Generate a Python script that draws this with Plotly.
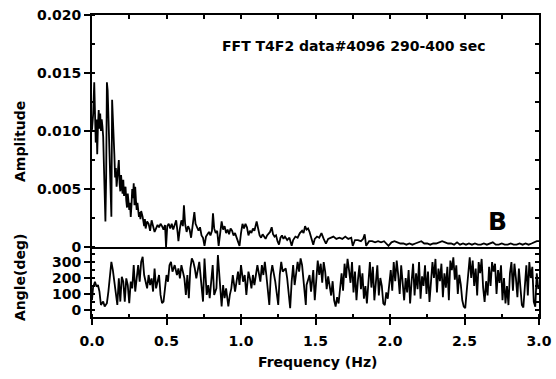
import plotly.graph_objects as go

# ---- Amplitude spectrum (Hz, amplitude x1e-3) ----
amp_freq = [0.000,0.008,0.015,0.020,0.025,0.030,0.035,0.040,0.045,0.050,0.055,0.060,0.065,0.070,0.075,0.080,0.085,0.090,0.095,
            0.100,0.105,0.110,0.115,0.120,0.125,0.130,0.135,0.140,0.145,0.150,0.155,0.160,0.165,0.170,0.175,0.180,0.185,0.190,0.195,
            0.200,0.205,0.210,0.215,0.220,0.225,0.230,0.235,0.240,0.245,0.250,0.255,0.260,0.265,0.270,0.275,0.280,0.285,0.290,0.295,
            0.300,0.305,0.310,0.315,0.320,0.325,0.330,0.340,0.350,0.355,0.360,0.370,0.380,0.390,0.400,0.410,0.420,0.430,0.440,0.450,
            0.460,0.470,0.480,0.490,0.497,0.505,0.515,0.525,0.535,0.545,0.555,0.565,0.575,0.580,0.590,0.600,0.610,0.617,0.625,0.635,
            0.645,0.655,0.665,0.675,0.687,0.695,0.705,0.715,0.725,0.735,0.745,0.755,0.765,0.775,0.785,0.795,0.805,0.812,0.820,0.830,
            0.840,0.850,0.860,0.870,0.880,0.890,0.900,0.910,0.920,0.930,0.940,0.950,0.960,0.970,0.980,0.990,1.000,1.010,1.020,1.030,
            1.040,1.050,1.060,1.070,1.080,1.090,1.105,1.115,1.125,1.135,1.145,1.155,1.165,1.175,1.185,1.195,1.206,1.215,1.225,1.235,
            1.245,1.255,1.265,1.275,1.285,1.295,1.310,1.325,1.340,1.350,1.365,1.380,1.395,1.410,1.420,1.430,1.440,1.450,1.460,1.470,
            1.485,1.495,1.510,1.525,1.540,1.555,1.570,1.585,1.600,1.620,1.640,1.660,1.680,1.700,1.720,1.740,1.750,1.765,1.785,1.805,
            1.820,1.830,1.840,1.860,1.880,1.900,1.920,1.940,1.960,1.990,2.010,2.030,2.050,2.070,2.090,2.110,2.130,2.150,2.170,2.190,
            2.210,2.230,2.250,2.270,2.290,2.310,2.330,2.350,2.370,2.390,2.410,2.430,2.450,2.470,2.490,2.510,2.530,2.550,2.570,2.590,
            2.610,2.630,2.650,2.670,2.690,2.710,2.730,2.750,2.770,2.790,2.810,2.830,2.850,2.870,2.890,2.910,2.930,2.950,2.970,2.985,3.000]
amp_milli = [10.1,11.5,14.2,12.0,9.0,11.0,8.0,10.5,11.8,10.2,11.5,10.0,11.0,10.4,9.5,7.0,5.0,2.2,6.0,
             14.2,13.5,11.0,9.5,7.0,4.0,2.6,12.7,11.5,9.5,8.0,6.0,6.8,5.2,6.0,7.0,7.5,5.5,4.8,6.2,
             5.0,4.6,5.8,4.4,4.9,5.2,4.0,3.4,4.6,4.0,3.2,3.8,2.6,3.6,5.0,4.2,5.5,3.6,5.2,4.0,
             3.2,3.8,3.4,2.6,3.0,2.4,3.1,2.6,1.8,2.4,1.6,2.2,2.0,1.4,2.3,1.8,1.3,1.6,1.9,1.7,
             2.0,1.8,1.5,1.9,0.0,1.8,2.0,1.6,2.0,1.5,1.9,2.3,1.2,0.5,1.6,2.3,1.8,3.6,2.0,1.3,
             1.8,1.5,0.8,1.7,3.0,2.0,1.6,1.4,1.7,1.0,0.8,0.1,0.9,1.1,1.3,1.0,1.4,2.9,1.6,1.2,
             1.4,0.1,1.2,2.2,1.5,1.8,1.2,1.5,1.1,1.6,1.4,1.0,1.2,0.8,0.6,0.1,1.2,2.0,1.6,2.0,
             1.7,1.0,1.4,1.2,1.6,1.4,2.2,1.5,1.0,0.8,1.1,0.9,0.7,1.0,1.2,1.3,1.7,1.1,0.9,1.0,
             0.5,0.2,0.8,1.0,0.7,0.9,0.6,0.8,0.1,0.6,0.9,0.8,1.2,1.4,1.2,1.8,1.5,1.6,1.3,0.8,
             0.2,0.7,0.9,0.8,1.2,0.7,0.3,0.7,0.8,0.9,0.7,0.8,0.7,0.9,0.7,0.8,0.1,0.6,0.6,0.5,
             0.7,1.1,0.1,0.5,0.5,0.4,0.5,0.4,0.5,0.1,0.4,0.5,0.4,0.3,0.3,0.2,0.3,0.2,0.3,0.4,
             0.5,0.3,0.3,0.2,0.3,0.3,0.4,0.5,0.4,0.3,0.3,0.2,0.4,0.2,0.3,0.2,0.3,0.2,0.3,0.2,
             0.2,0.3,0.2,0.3,0.4,0.2,0.2,0.3,0.2,0.2,0.3,0.2,0.2,0.3,0.2,0.3,0.2,0.3,0.4,0.5,0.5]

# ---- Phase angle (Hz, degrees) ----
ang_freq = [0.000,0.007,0.020,0.030,0.040,0.050,0.060,0.075,0.085,0.100,0.110,0.120,0.130,0.140,0.150,0.160,0.170,0.180,0.190,
            0.200,0.210,0.220,0.230,0.240,0.250,0.260,0.270,0.280,0.290,0.300,0.310,0.320,0.330,0.340,0.350,0.360,0.370,0.380,0.390,
            0.400,0.410,0.420,0.430,0.450,0.460,0.470,0.480,0.490,0.500,0.510,0.520,0.530,0.540,0.555,0.570,0.580,0.590,0.600,0.610,
            0.620,0.630,0.640,0.650,0.660,0.670,0.680,0.690,0.700,0.720,0.735,0.745,0.755,0.770,0.780,0.790,0.800,0.810,0.820,0.835,
            0.845,0.855,0.870,0.880,0.890,0.900,0.915,0.925,0.935,0.945,0.960,0.970,0.980,0.990,1.000,1.014,1.025,1.036,1.050,1.060,
            1.070,1.080,1.090,1.100,1.110,1.130,1.140,1.150,1.160,1.170,1.180,1.190,1.200,1.210,1.230,1.240,1.250,1.260,1.270,1.280,
            1.300,1.310,1.320,1.330,1.340,1.350,1.360,1.370,1.380,1.390,1.400,1.410,1.420,1.435,1.440,1.460,1.470,
            1.485,1.495,1.505,1.515,1.525,1.535,1.545,1.555,1.565,1.575,1.585,1.595,1.605,1.615,1.625,1.635,1.645,1.655,1.665,1.675,
            1.685,1.695,1.705,1.715,1.725,1.735,1.745,1.755,1.765,1.775,1.785,1.795,1.805,1.815,1.825,1.835,1.845,1.855,1.865,1.875,
            1.885,1.895,1.905,1.915,1.925,1.935,1.945,1.955,1.965,1.975,1.985,1.995,2.005,2.015,2.025,2.035,2.045,2.055,2.065,2.075,
            2.085,2.095,2.105,2.115,2.125,2.135,2.145,2.155,2.165,2.175,2.185,2.195,2.205,2.215,2.225,2.235,2.245,2.255,2.265,2.275,
            2.285,2.295,2.305,2.315,2.325,2.335,2.345,2.355,2.365,2.375,2.385,2.395,2.405,2.415,2.425,2.435,2.445,2.455,2.465,2.475,
            2.485,2.495,2.505,2.515,2.525,2.535,2.545,2.555,2.565,2.575,2.585,2.595,2.605,2.615,2.625,2.635,2.645,2.655,2.665,2.675,
            2.685,2.695,2.705,2.715,2.725,2.735,2.745,2.755,2.765,2.775,2.785,2.795,2.805,2.815,2.825,2.835,2.845,2.855,2.865,2.875,
            2.885,2.895,2.905,2.915,2.925,2.935,2.945,2.955,2.965,2.975,2.985,2.995]
ang_deg = [60,140,177,146,156,115,31,52,21,42,115,240,302,250,177,94,31,198,52,
           208,177,52,198,156,42,177,135,281,115,198,281,177,302,333,219,177,135,219,156,
           198,115,260,135,219,94,42,52,135,219,177,281,302,240,281,219,260,198,281,240,
           198,94,219,73,260,323,302,260,198,302,177,52,323,94,156,73,177,281,94,135,
           344,198,21,156,73,135,21,94,135,219,115,177,240,156,281,177,219,94,240,198,
           135,219,156,219,281,177,281,219,302,219,115,31,219,281,177,94,31,219,302,240,
           260,198,115,10,177,281,156,240,302,240,323,281,156,31,156,219,115,
           250,60,200,310,220,290,170,300,240,130,210,150,90,180,60,20,80,40,150,230,
           120,290,200,320,250,170,300,110,240,60,190,280,130,230,70,150,40,210,300,140,
           270,60,180,280,90,200,150,40,30,110,70,160,250,120,300,180,310,220,100,280,
           160,60,200,110,250,40,180,290,90,230,130,300,70,210,150,280,100,240,50,160,
           300,200,320,110,260,180,290,80,230,140,270,60,310,250,330,190,280,100,220,160,
           60,20,10,120,240,330,200,310,150,260,90,300,230,320,140,50,180,90,270,150,
           300,240,290,100,250,170,280,60,200,40,150,30,230,300,120,290,200,80,260,110,
           30,15,170,280,90,300,200,270,50,20,230,130]

amp_values = [v / 1000.0 for v in amp_milli]

amp_ticks = [0, 0.005, 0.010, 0.015, 0.020]
amp_ticktext = ["0", "0.005", "0.010", "0.015", "0.020"]
ang_ticks = [0, 100, 200, 300]
freq_ticks = [0.0, 0.5, 1.0, 1.5, 2.0, 2.5, 3.0]
freq_ticktext = ["0.0", "0.5", "1.0", "1.5", "2.0", "2.5", "3.0"]

FONT = dict(family="DejaVu Sans", size=14, color="black", weight="bold")
LW = 2
split = 70 / 302

fig = go.Figure()
fig.add_trace(go.Scatter(x=amp_freq, y=amp_values, xaxis="x2", yaxis="y", mode="lines",
                         line=dict(color="black", width=1.8), showlegend=False, hoverinfo="skip"))
fig.add_trace(go.Scatter(x=ang_freq, y=ang_deg, xaxis="x", yaxis="y2", mode="lines",
                         line=dict(color="black", width=1.8), showlegend=False, hoverinfo="skip"))
# empty traces so overlay axes (mirrored inside ticks) are drawn
fig.add_trace(go.Scatter(x=[], y=[], xaxis="x3", yaxis="y", showlegend=False))
fig.add_trace(go.Scatter(x=[], y=[], xaxis="x2", yaxis="y3", showlegend=False))
fig.add_trace(go.Scatter(x=[], y=[], xaxis="x", yaxis="y4", showlegend=False))

common = dict(showgrid=False, zeroline=False, showline=True, linecolor="black", linewidth=LW,
              tickcolor="black", tickwidth=1.5, tickfont=FONT, automargin=False)

fig.update_layout(
    width=556, height=379,
    margin=dict(l=92, r=17, t=15, b=62),
    paper_bgcolor="white", plot_bgcolor="white",
    xaxis=dict(domain=[0, 1], anchor="y2", range=[0, 3], tickvals=freq_ticks, ticktext=freq_ticktext,
               ticks="outside", ticklen=6, ticklabelstandoff=4,
               minor=dict(dtick=0.25, ticks="inside", ticklen=3, tickcolor="black"),
               **common),
    xaxis2=dict(domain=[0, 1], anchor="y", range=[0, 3], matches="x", showticklabels=False, ticks="",
                **common),
    xaxis3=dict(overlaying="x2", side="top", anchor="y", range=[0, 3], dtick=0.25, ticks="inside",
                ticklen=4, showticklabels=False, **common),
    yaxis=dict(domain=[split, 1], anchor="x2", range=[0, 0.02], tickvals=amp_ticks, ticktext=amp_ticktext,
               ticks="outside", ticklen=6, minor=dict(dtick=0.0025, ticks="inside", ticklen=3, tickcolor="black"),
               **common),
    yaxis3=dict(overlaying="y", side="right", anchor="x2", range=[0, 0.02], dtick=0.0025, ticks="inside",
                ticklen=4, showticklabels=False, **common),
    yaxis2=dict(domain=[0, split], anchor="x", range=[-45, 395], tickvals=ang_ticks,
                ticks="outside", ticklen=6, minor=dict(dtick=50, ticks="inside", ticklen=3, tickcolor="black"),
                **common),
    yaxis4=dict(overlaying="y2", side="right", anchor="x", range=[-45, 395], dtick=50, ticks="inside",
                ticklen=4, showticklabels=False, **common),
    annotations=[
        dict(text="FFT T4F2 data#4096 290-400 sec", xref="paper", yref="paper",
             x=(353 - 92) / 447, y=1 - (46 - 15) / 302, xanchor="center", yanchor="middle", showarrow=False,
             font=dict(family="DejaVu Sans", size=14, color="black", weight="bold")),
        dict(text="B", xref="paper", yref="paper", x=(497 - 92) / 447, y=1 - (222 - 15) / 302,
             xanchor="center", yanchor="middle",
             showarrow=False, font=dict(family="DejaVu Sans", size=25, color="black", weight="bold")),
        dict(text="Amplitude", xref="paper", yref="paper", x=(20 - 92) / 447, y=1 - (142 - 15) / 302,
             xanchor="center", yanchor="middle", textangle=-90, showarrow=False, font=FONT),
        dict(text="Angle(deg)", xref="paper", yref="paper", x=(20 - 92) / 447, y=1 - (278 - 15) / 302,
             xanchor="center", yanchor="middle", textangle=-90, showarrow=False, font=FONT),
        dict(text="Frequency (Hz)", xref="paper", yref="paper", x=(317 - 92) / 447, y=1 - (362 - 15) / 302,
             xanchor="center", yanchor="middle", showarrow=False, font=FONT),
    ],
)

fig.write_html("out.html")
